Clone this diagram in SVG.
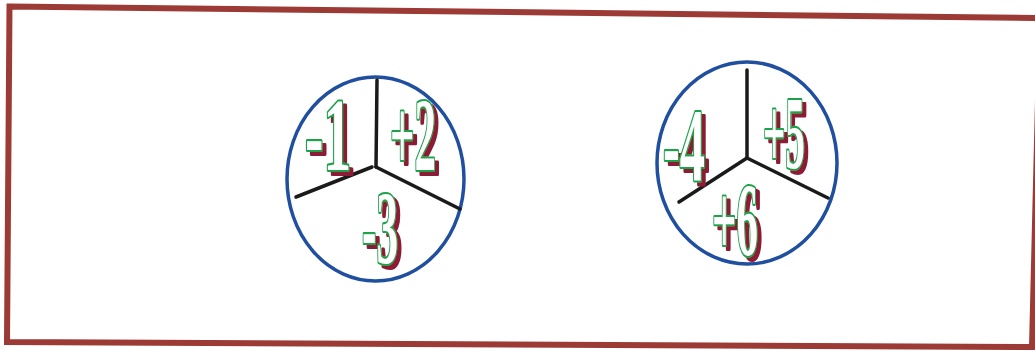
<svg xmlns="http://www.w3.org/2000/svg" width="1035" height="351" viewBox="0 0 1035 351">
<defs>
<filter id="shadow" x="-20%" y="-20%" width="150%" height="150%">
  <feOffset in="SourceAlpha" dx="3.5" dy="3.5" result="off"/>
  <feFlood flood-color="#8c1f36"/>
  <feComposite in2="off" operator="in" result="sh"/>
  <feMerge><feMergeNode in="sh"/><feMergeNode in="SourceGraphic"/></feMerge>
</filter>
</defs>
<style>
.frame{fill:none;stroke:#9c3a35;stroke-width:6;stroke-linejoin:miter}
.ring{fill:none;stroke:#1f4f9e;stroke-width:3.5}
.div{stroke:#1a1a1a;stroke-width:3.5;stroke-linecap:round;fill:none}
.num{font-family:"Liberation Serif",serif;font-weight:bold;font-size:104px;fill:#ffffff;stroke:#1fa24c;stroke-width:4.2;stroke-linejoin:round;paint-order:stroke;filter:url(#shadow)}
</style>
<rect x="0" y="0" width="1035" height="351" fill="#ffffff"/>
<path class="frame" d="M9.5,6.5 L1040,18 L1032,347 L7,342 Z"/>
<g id="spinner-1">
  <ellipse class="ring" cx="375.5" cy="179" rx="88.5" ry="102"/>
  <g class="div">
    <line x1="376" y1="167" x2="377" y2="80"/>
    <line x1="372" y1="167" x2="296" y2="197"/>
    <line x1="376" y1="167" x2="460" y2="209"/>
  </g>
  <text class="num" x="305" y="170" textLength="46" lengthAdjust="spacingAndGlyphs">-1</text>
  <text class="num" x="390" y="170" textLength="46" lengthAdjust="spacingAndGlyphs">+2</text>
  <text class="num" x="362" y="263" textLength="36" lengthAdjust="spacingAndGlyphs">-3</text>
</g>
<g id="spinner-2">
  <ellipse class="ring" cx="747" cy="163" rx="90" ry="101"/>
  <g class="div">
    <line x1="747" y1="158" x2="747" y2="70"/>
    <line x1="747" y1="158" x2="679" y2="202"/>
    <line x1="747" y1="158" x2="828" y2="198"/>
  </g>
  <text class="num" x="663" y="180" textLength="42" lengthAdjust="spacingAndGlyphs">-4</text>
  <text class="num" x="763" y="168" textLength="42" lengthAdjust="spacingAndGlyphs">+5</text>
  <text class="num" x="712" y="255" textLength="46" lengthAdjust="spacingAndGlyphs">+6</text>
</g>
</svg>
